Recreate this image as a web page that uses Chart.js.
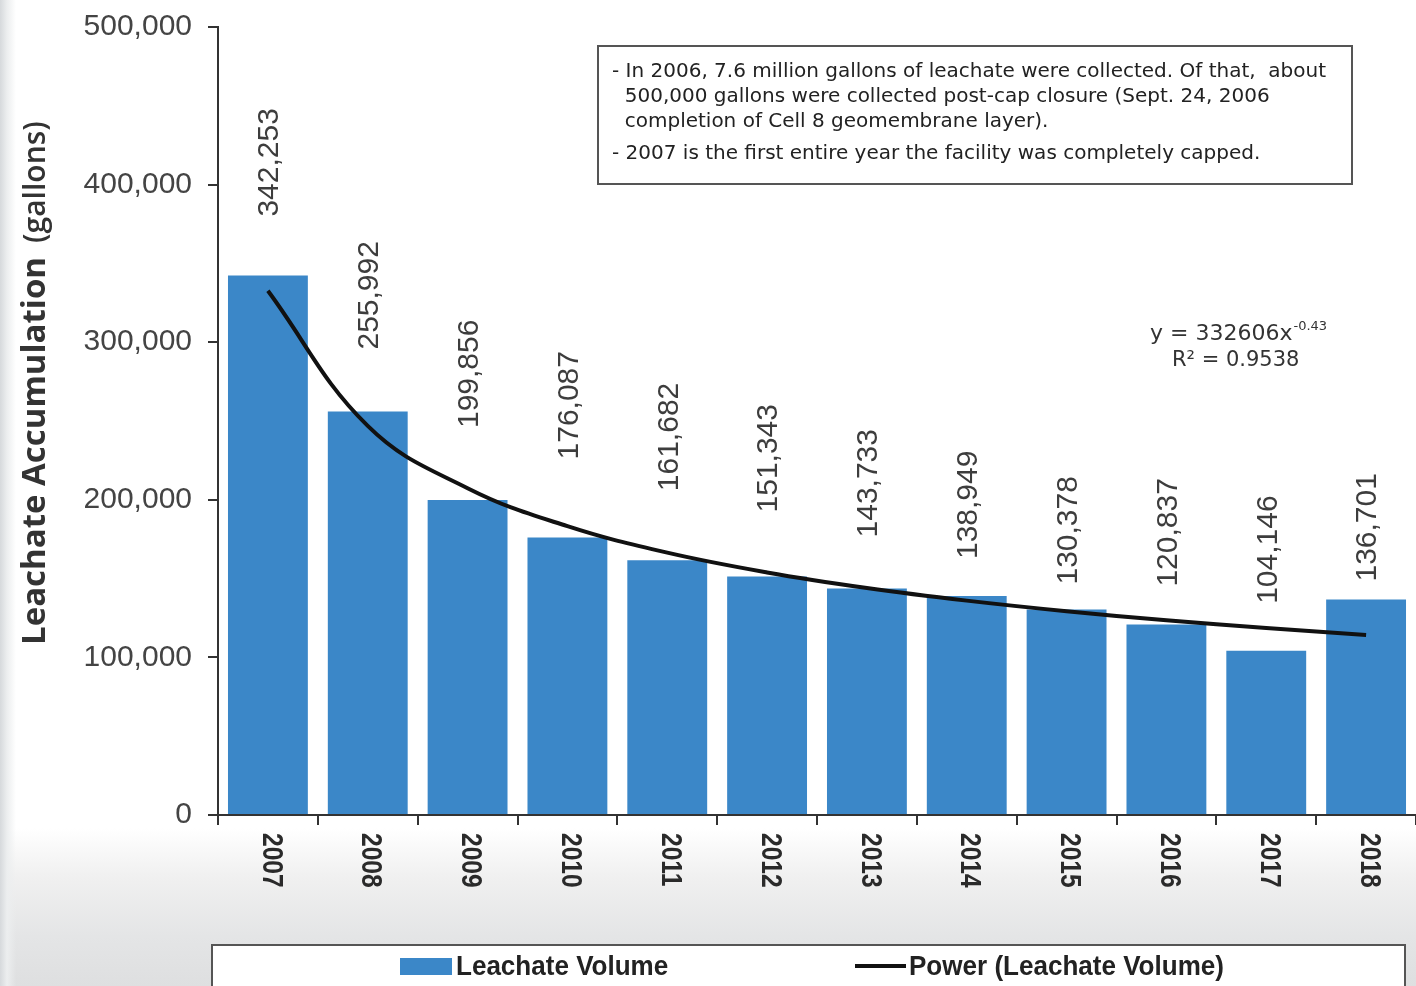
<!DOCTYPE html>
<html>
<head>
<meta charset="utf-8">
<title>Leachate Volume</title>
<script src="https://cdn.jsdelivr.net/npm/chart.js@4.4.1/dist/chart.umd.min.js"></script>
<style>
  html, body { margin: 0; padding: 0; }
  body {
    width: 1416px;
    height: 986px;
    overflow: hidden;
    background:
      linear-gradient(to right, #d6d9dc 0px, #eceeef 7px, rgba(255,255,255,0) 16px),
      linear-gradient(to bottom, #ffffff 0%, #ffffff 84%, #f0f0f0 89%, #e4e5e6 95%, #dedfe0 100%);
  }
  #wrap { position: relative; width: 1416px; height: 986px; }
</style>
</head>
<body>
<div id="wrap"><canvas id="myChart" width="1416" height="986"></canvas></div>
<script>
// yearly leachate collected, gallons
var years = ['2007', '2008', '2009', '2010', '2011', '2012', '2013', '2014', '2015', '2016', '2017', '2018'];
var leachate = [342253, 255992, 199856, 176087, 161682, 151343, 143733, 138949, 130378, 120837, 104146, 136701];
// power trendline y = 332606x^-0.43 read at each year
var powerFit = [332606, 246880, 207380, 183250, 166480, 153930, 144060, 136020, 129300, 123570, 118610, 114260];
var yTicks = [0, 100000, 200000, 300000, 400000, 500000];

var notes = [
    '- In 2006, 7.6 million gallons of leachate were collected. Of that,  about',
    '  500,000 gallons were collected post-cap closure (Sept. 24, 2006',
    '  completion of Cell 8 geomembrane layer).',
    '- 2007 is the first entire year the facility was completely capped.'
];
var fitEquation = 'y = 332606x';
var fitPower = '-0.43';
var fitR2 = 'R\u00b2 = 0.9538';

// how far each value label sits above its bar (px)
var labelLift = [59, 62, 72, 78, 69, 64, 51, 37, 25, 38, 47, 18];

var BLUE = '#3b87c8';
var fmt = new Intl.NumberFormat('en-US');

// squeezed text, for the narrow look of the year and legend labels
function narrowText(ctx, text, x, y, squeeze) {
    ctx.save();
    ctx.translate(x, y);
    ctx.scale(squeeze, 1);
    ctx.fillText(text, 0, 0);
    ctx.restore();
}

var extras = {
    id: 'extras',
    afterDraw: function (chart) {
        var ctx = chart.ctx;
        var x = chart.scales.x;
        var y = chart.scales.y;
        var bars = chart.getDatasetMeta(1).data;

        // value labels, rotated, above each bar
        ctx.save();
        ctx.fillStyle = '#3d3d3d';
        ctx.font = '30px "Liberation Sans", Arial, sans-serif';
        ctx.textAlign = 'left';
        ctx.textBaseline = 'middle';
        for (var i = 0; i < bars.length; i++) {
            ctx.save();
            ctx.translate(bars[i].x + 2, bars[i].y - labelLift[i]);
            ctx.rotate(-Math.PI / 2);
            ctx.fillText(fmt.format(leachate[i]), 0, 0);
            ctx.restore();
        }
        ctx.restore();

        // year labels reading downwards
        ctx.save();
        ctx.fillStyle = '#2a2a2a';
        ctx.font = 'bold 30px "Liberation Sans", sans-serif';
        ctx.textAlign = 'left';
        ctx.textBaseline = 'middle';
        for (var j = 0; j < years.length; j++) {
            ctx.save();
            ctx.translate(x.getPixelForValue(j) + 3, y.bottom + 18);
            ctx.rotate(Math.PI / 2);
            narrowText(ctx, years[j], 0, 0, 0.82);
            ctx.restore();
        }
        ctx.restore();

        // y axis title
        ctx.save();
        ctx.translate(45, 645);
        ctx.rotate(-Math.PI / 2);
        ctx.fillStyle = '#333333';
        ctx.textAlign = 'left';
        ctx.textBaseline = 'alphabetic';
        ctx.font = 'bold 33px "Open Sans", sans-serif';
        ctx.fillText('Leachate Accumulation', 0, 0);
        var tw = ctx.measureText('Leachate Accumulation').width;
        ctx.font = '600 30px "Open Sans", sans-serif';
        ctx.fillText('(gallons)', tw + 14, 0);
        ctx.restore();

        // notes box
        ctx.save();
        ctx.fillStyle = '#ffffff';
        ctx.fillRect(598, 46, 754, 138);
        ctx.strokeStyle = '#555555';
        ctx.lineWidth = 2;
        ctx.strokeRect(598, 46, 754, 138);
        ctx.fillStyle = '#222222';
        ctx.font = '20px "DejaVu Sans", sans-serif';
        ctx.textAlign = 'left';
        ctx.textBaseline = 'middle';
        var rows = [72, 97, 122, 154];
        for (var k = 0; k < notes.length; k++) {
            ctx.fillText(notes[k], 612, rows[k]);
        }
        ctx.restore();

        // trendline equation
        ctx.save();
        ctx.fillStyle = '#333333';
        ctx.textBaseline = 'middle';
        ctx.textAlign = 'left';
        ctx.font = '22px "DejaVu Sans", sans-serif';
        ctx.fillText(fitEquation, 1150, 334);
        var ew = ctx.measureText(fitEquation).width;
        ctx.font = '13px "DejaVu Sans", sans-serif';
        ctx.fillText(fitPower, 1150 + ew + 1, 327);
        ctx.font = '21px "DejaVu Sans", sans-serif';
        ctx.fillText(fitR2, 1172, 361);
        ctx.restore();

        // legend box
        ctx.save();
        ctx.fillStyle = '#ffffff';
        ctx.fillRect(212, 945, 1193, 50);
        ctx.strokeStyle = '#555555';
        ctx.lineWidth = 2;
        ctx.strokeRect(212, 945, 1193, 50);
        var ds = chart.data.datasets;
        ctx.font = 'bold 28px "Liberation Sans", sans-serif';
        ctx.textBaseline = 'middle';
        ctx.fillStyle = BLUE;
        ctx.fillRect(400, 958, 52, 17);
        ctx.fillStyle = '#222222';
        narrowText(ctx, ds[1].label, 456, 967, 0.93);
        ctx.strokeStyle = '#111111';
        ctx.lineWidth = 4;
        ctx.beginPath();
        ctx.moveTo(855, 966);
        ctx.lineTo(906, 966);
        ctx.stroke();
        narrowText(ctx, ds[0].label, 909, 967, 0.93);
        ctx.restore();
    }
};

var ctx = document.getElementById('myChart').getContext('2d');
var myChart = new Chart(ctx, {
    type: 'bar',
    data: {
        labels: years,
        datasets: [{
            type: 'line',
            label: 'Power (Leachate Volume)',
            data: powerFit,
            borderColor: '#111111',
            borderWidth: 4,
            pointRadius: 0,
            tension: 0.4,
            order: 0
        }, {
            label: 'Leachate Volume',
            data: leachate,
            backgroundColor: BLUE,
            borderWidth: 0,
            barPercentage: 0.8,
            categoryPercentage: 1.0,
            order: 1
        }]
    },
    options: {
        responsive: false,
        animation: false,
        layout: { padding: { left: 0, top: 27, right: 0, bottom: 0 } },
        plugins: {
            legend: { display: false },
            tooltip: { enabled: false }
        },
        scales: {
            x: {
                grid: { drawOnChartArea: false, color: '#333333', lineWidth: 2, tickLength: 10, offset: true },
                border: { color: '#333333', width: 2 },
                ticks: { display: false },
                afterFit: function (scale) { scale.height = 171; }
            },
            y: {
                min: 0,
                max: 500000,
                afterBuildTicks: function (scale) {
                    scale.ticks = yTicks.map(function (v) { return { value: v }; });
                },
                grid: { drawOnChartArea: false, color: '#333333', lineWidth: 2, tickLength: 10 },
                border: { color: '#333333', width: 2 },
                ticks: {
                    color: '#444444',
                    padding: 16,
                    font: { family: '"Liberation Sans", Arial, sans-serif', size: 30 },
                    callback: function (v) { return fmt.format(v); }
                },
                afterFit: function (scale) {
                    scale.width = 218;
                    scale.paddingTop = 0;
                    scale.paddingBottom = 0;
                }
            }
        }
    },
    plugins: [extras]
});
</script>
</body>
</html>
